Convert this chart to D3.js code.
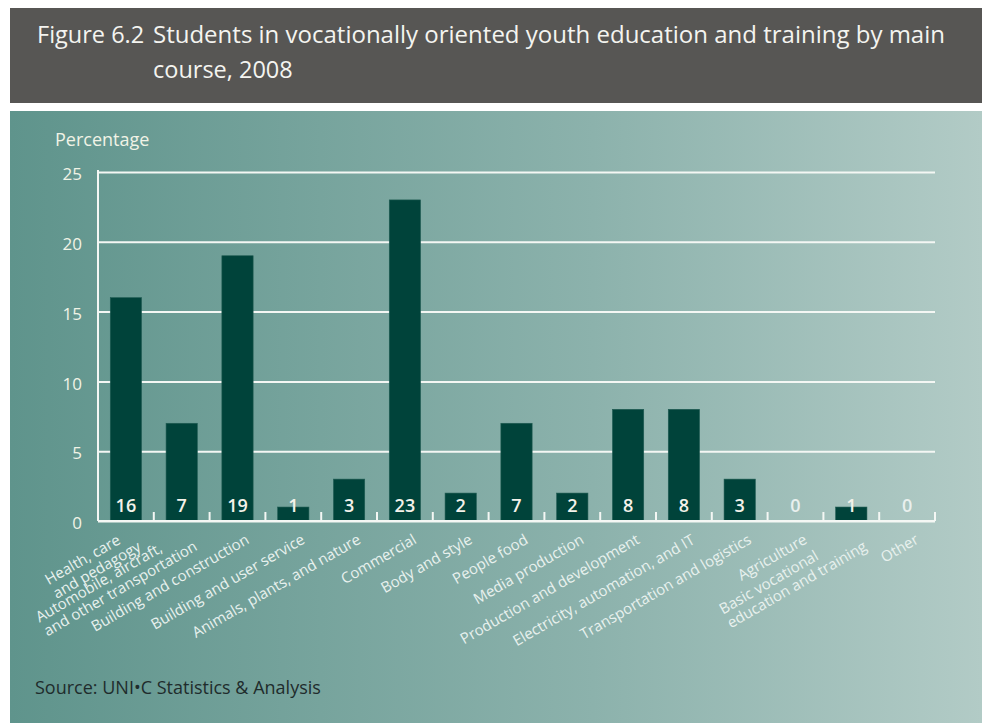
<!DOCTYPE html>
<html>
<head>
<meta charset="utf-8">
<script src="https://cdn.jsdelivr.net/npm/d3@7"></script>
<style>
  body { margin: 0; background: #fff; }
</style>
</head>
<body>
<script>
const categories = [
  "Health, care|and pedagogy",
  "Automobile, aircraft,|and other transportation",
  "Building and construction",
  "Building and user service",
  "Animals, plants, and nature",
  "Commercial",
  "Body and style",
  "People food",
  "Media production",
  "Production and development",
  "Electricity, automation, and IT",
  "Transportation and logistics",
  "Agriculture",
  "Basic vocational|education and training",
  "Other"
];
const values = [16, 7, 19, 1, 3, 23, 2, 7, 2, 8, 8, 3, 0, 1, 0];
const yTicks = [0, 5, 10, 15, 20, 25];

const width = 982, height = 723;
const margin = {top: 172, right: 47, bottom: 202, left: 98};

const svg = d3.select("body").append("svg")
    .attr("width", width)
    .attr("height", height);

const grad = svg.append("defs").append("linearGradient")
    .attr("id", "bg")
    .attr("x1", 0).attr("x2", 1).attr("y1", 0).attr("y2", 0);
grad.append("stop").attr("offset", 0).attr("stop-color", "#5f948c");
grad.append("stop").attr("offset", 0.6).attr("stop-color", "#8cb2ac");
grad.append("stop").attr("offset", 1).attr("stop-color", "#b2cbc6");

// title bar
svg.append("rect")
    .attr("x", 10).attr("y", 8)
    .attr("width", width - 10).attr("height", 95)
    .attr("fill", "#575654");

const font = "'Open Sans', sans-serif";

const title = svg.append("g")
    .attr("fill", "#f4f4f0")
    .style("font-family", font)
    .style("font-size", "23.5px");
title.append("text").attr("x", 37).attr("y", 43).text("Figure 6.2");
title.append("text").attr("x", 153).attr("y", 43)
    .attr("textLength", 792).attr("lengthAdjust", "spacingAndGlyphs")
    .text("Students in vocationally oriented youth education and training by main");
title.append("text").attr("x", 153).attr("y", 78).text("course, 2008");

// panel
svg.append("rect")
    .attr("x", 10).attr("y", 111)
    .attr("width", width - 10).attr("height", height - 111)
    .attr("fill", "url(#bg)");

const x = d3.scaleBand()
    .domain(d3.range(categories.length))
    .range([margin.left, width - margin.right])
    .paddingInner(0.44)
    .paddingOuter(0.22);

const y = d3.scaleLinear()
    .domain([0, 25])
    .range([height - margin.bottom, margin.top]);

svg.append("text")
    .attr("x", 55).attr("y", 146)
    .attr("fill", "#f1f3e6")
    .style("font-family", font)
    .style("font-size", "18px")
    .text("Percentage");

// grid + y axis
svg.append("g")
    .attr("transform", `translate(${margin.left},0)`)
    .call(d3.axisLeft(y).tickValues(yTicks).tickSize(-(width - margin.right - margin.left)).tickPadding(16))
    .call(g => g.select(".domain").remove())
    .call(g => g.selectAll(".tick line").attr("stroke", "#f4f7f4").attr("stroke-width", 2))
    .call(g => g.selectAll(".tick text")
        .attr("fill", "#f1f3e6")
        .style("font-family", font)
        .style("font-size", "17px")
        .attr("dy", "0.45em"));

svg.append("line")
    .attr("x1", margin.left).attr("x2", margin.left)
    .attr("y1", y(25) - 2).attr("y2", y(0))
    .attr("stroke", "#f4f7f4").attr("stroke-width", 2);

// bars
svg.append("g")
  .selectAll("rect")
  .data(values)
  .join("rect")
    .attr("x", (d, i) => x(i))
    .attr("y", d => y(d))
    .attr("width", x.bandwidth())
    .attr("height", d => y(0) - y(d))
    .attr("fill", "#00433a")
    .attr("stroke", "#1f5b52")
    .attr("stroke-width", 0.6);

// x axis with band separators
const step = x.step();
const sepTicks = d3.range(categories.length + 1).map(i => margin.left + i * step);
svg.append("line")
    .attr("x1", margin.left).attr("x2", width - margin.right)
    .attr("y1", y(0)).attr("y2", y(0))
    .attr("stroke", "#f4f7f4").attr("stroke-width", 2);
svg.append("g")
  .selectAll("line")
  .data(sepTicks)
  .join("line")
    .attr("x1", d => d).attr("x2", d => d)
    .attr("y1", y(0)).attr("y2", y(0) - 9)
    .attr("stroke", "#f4f7f4").attr("stroke-width", 2);

// value labels
svg.append("g")
  .selectAll("text")
  .data(values)
  .join("text")
    .attr("x", (d, i) => x(i) + x.bandwidth() / 2)
    .attr("y", y(0) - 9)
    .attr("text-anchor", "middle")
    .attr("fill", d => d === 0 ? "#e9f0ee" : "#f4f2ea")
    .style("font-family", font)
    .style("font-size", "18px")
    .style("font-weight", 600)
    .text(d => d);

// category labels
const lineH = 16;
const labels = svg.append("g")
  .selectAll("g")
  .data(categories)
  .join("g")
    .attr("transform", (d, i) => `translate(${x(i) + x.bandwidth() / 2 + 10},${y(0) + 17}) rotate(-30)`);

labels.each(function(d) {
  const lines = d.split("|");
  const t = d3.select(this).append("text")
      .attr("fill", "#e8f1ee")
      .style("font-family", font)
      .style("font-size", "15px");
  lines.forEach((l, k) => {
    t.append("tspan")
        .attr("x", 0)
        .attr("y", (k - (lines.length - 1) / 2) * lineH)
        .attr("dy", "0.35em")
        .text(l);
  });
  const w = t.node().getBBox().width;
  t.attr("transform", `translate(${-w},0)`);
});

svg.append("text")
    .attr("x", 35).attr("y", 694)
    .attr("fill", "#1f2c2c")
    .style("font-family", font)
    .style("font-size", "18px")
    .text("Source: UNI\u2022C Statistics & Analysis");
</script>
</body>
</html>
